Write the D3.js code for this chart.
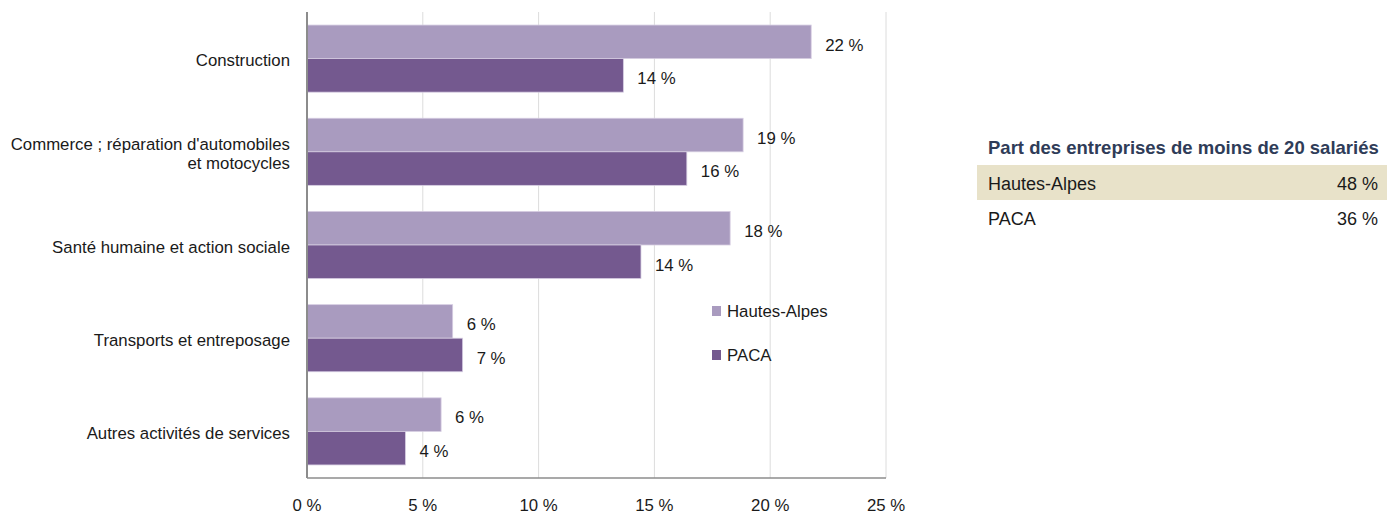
<!DOCTYPE html>
<meta charset="utf-8">
<style>
body { margin: 0; background: #fff; }
text { font-family: "Liberation Sans", Arial, sans-serif; fill: #1a1a1a; }
.grid line { stroke: #dcdcdc; }
.axis-line { stroke: #8c8c8c; }
</style>
<svg width="1387" height="515"></svg>
<script src="https://d3js.org/d3.v7.min.js"></script>
<script>

// data
var categories = [
  ["Construction"],
  ["Commerce ; réparation d'automobiles", "et motocycles"],
  ["Santé humaine et action sociale"],
  ["Transports et entreposage"],
  ["Autres activités de services"]
];
var series = ["Hautes-Alpes", "PACA"];
var hautesAlpes = [21.77, 18.83, 18.27, 6.29, 5.79];
var paca = [13.66, 16.40, 14.42, 6.72, 4.25];
var xTicks = [0, 5, 10, 15, 20, 25];

var tableTitle = "Part des entreprises de moins de 20 salariés";
var tableRows = ["Hautes-Alpes", "PACA"];
var tableValues = [48, 36];

var colors = ["#a99bbf", "#74598f"];
var fs = "16.8px";

var svg = d3.select("svg"),
    margin = {top: 12, left: 307},
    width = 886 - 307,
    height = 478 - 12;

var x = d3.scaleLinear().domain([0, 25]).range([0, width]);
var y = d3.scaleBand()
    .domain(d3.range(categories.length))
    .range([0, height])
    .paddingInner(0.28)
    .paddingOuter(0.14);
var ySub = d3.scaleBand().domain(series).range([0, y.bandwidth()]);

var g = svg.append("g")
    .attr("transform", "translate(" + margin.left + "," + margin.top + ")");

// vertical grid
g.append("g")
    .attr("class", "grid")
  .selectAll("line")
  .data(xTicks.slice(1))
  .enter().append("line")
    .attr("x1", function(d) { return x(d); })
    .attr("x2", function(d) { return x(d); })
    .attr("y1", 0)
    .attr("y2", height);

// x tick labels
g.append("g")
  .selectAll("text")
  .data(xTicks)
  .enter().append("text")
    .attr("x", function(d) { return x(d); })
    .attr("y", height + 33)
    .attr("text-anchor", "middle")
    .style("font-size", fs)
    .text(function(d) { return d + " %"; });

var rows = categories.map(function(c, i) {
  return {label: c, vals: [hautesAlpes[i], paca[i]]};
});

var grp = g.selectAll(".cat")
  .data(rows)
  .enter().append("g")
    .attr("class", "cat")
    .attr("transform", function(d, i) { return "translate(0," + y(i) + ")"; });

grp.selectAll("rect")
  .data(function(d) { return d.vals.map(function(v, j) { return {s: series[j], v: v, j: j}; }); })
  .enter().append("rect")
    .attr("x", 0)
    .attr("y", function(d) { return ySub(d.s); })
    .attr("width", function(d) { return x(d.v); })
    .attr("height", ySub.bandwidth())
    .attr("fill", function(d) { return colors[d.j]; })
    .attr("stroke", "#d6cde2")
    .attr("stroke-width", 0.8);

grp.selectAll(".val")
  .data(function(d) { return d.vals.map(function(v, j) { return {s: series[j], v: v}; }); })
  .enter().append("text")
    .attr("class", "val")
    .attr("x", function(d) { return x(d.v) + 14; })
    .attr("y", function(d) { return ySub(d.s) + ySub.bandwidth() / 2 + 3; })
    .attr("dy", "0.35em")
    .style("font-size", fs)
    .text(function(d) { return Math.round(d.v) + " %"; });

// category labels
grp.append("text")
    .attr("text-anchor", "end")
    .style("font-size", fs)
    .each(function(d) {
      var t = d3.select(this);
      var n = d.label.length;
      d.label.forEach(function(line, k) {
        t.append("tspan")
          .attr("x", -17)
          .attr("y", y.bandwidth() / 2 + 2 + (k - (n - 1) / 2) * 19)
          .attr("dy", "0.35em")
          .text(line);
      });
    });

// axis lines
g.append("line").attr("class", "axis-line")
    .attr("x1", 0).attr("x2", 0).attr("y1", 0).attr("y2", height)
    .attr("stroke-width", 2);
g.append("line").attr("class", "axis-line")
    .attr("x1", 0).attr("x2", width).attr("y1", height).attr("y2", height)
    .attr("stroke-width", 1.5);

// legend
var legend = svg.append("g").attr("transform", "translate(712,306)");
legend.selectAll("g")
  .data(series)
  .enter().append("g")
    .attr("transform", function(d, i) { return "translate(0," + i * 44 + ")"; })
    .each(function(d, i) {
      var l = d3.select(this);
      l.append("rect").attr("width", 9).attr("height", 10).attr("fill", colors[i]);
      l.append("text").attr("x", 15).attr("y", 5).attr("dy", "0.35em")
        .style("font-size", fs).text(d);
    });

// side table
var tab = svg.append("g");
tab.append("text")
    .attr("x", 988).attr("y", 148).attr("dy", "0.35em")
    .style("font-size", "18.5px").style("font-weight", "bold")
    .style("fill", "#2f3c58")
    .text(tableTitle);

tableRows.forEach(function(r, i) {
  var yy = 165 + i * 35;
  if (i === 0) {
    tab.append("rect").attr("x", 977).attr("y", yy).attr("width", 410).attr("height", 35)
      .attr("fill", "#e8e2c9");
  }
  tab.append("text").attr("x", 988).attr("y", yy + 19).attr("dy", "0.35em")
    .style("font-size", "18px").text(r);
  tab.append("text").attr("x", 1378).attr("y", yy + 19).attr("dy", "0.35em")
    .attr("text-anchor", "end").style("font-size", "18px").text(tableValues[i] + " %");
});

</script>
